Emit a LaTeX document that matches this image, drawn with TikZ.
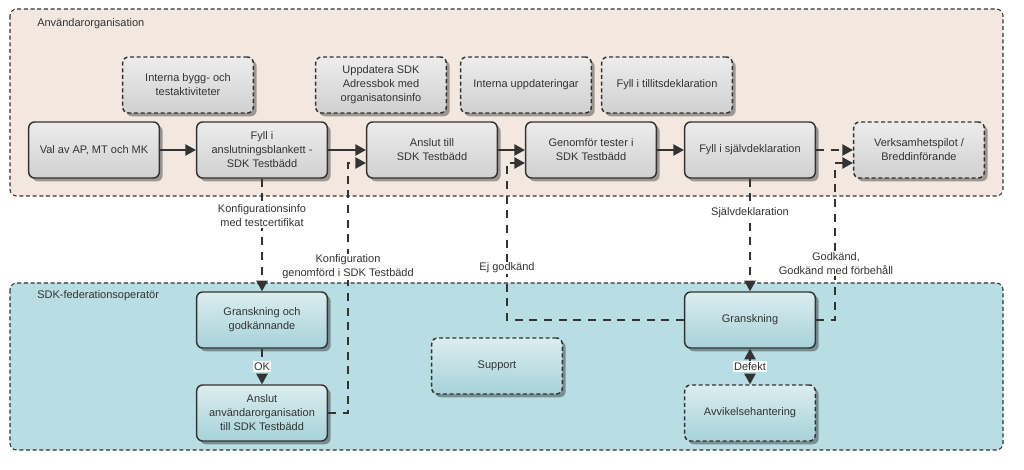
\documentclass[tikz,border=0pt]{standalone}
\usepackage{fontspec}
\setmainfont{Liberation Sans}
\usetikzlibrary{arrows.meta,shadows}
\definecolor{orgfill}{HTML}{F2E8E0}
\definecolor{opfill}{HTML}{B8DDE2}
\definecolor{linecol}{HTML}{333333}
\definecolor{taskgray}{HTML}{D0D0D0}
\definecolor{opteal}{HTML}{A6D2D8}
\newcommand{\boxfont}{\fontsize{8.25}{10.5}\selectfont}
\tikzset{>={Triangle[length=8pt,width=8.5pt]}}
\tikzset{lane/.style={fill=#1,draw=linecol,line width=0.8pt,dash pattern=on 3pt off 2pt,rounded corners=5pt},lane/.default=orgfill}
\tikzset{lanetitle/.style={text=linecol,font=\boxfont,inner sep=0pt}}
\tikzset{task/.style={draw=linecol,line width=1.1pt,rounded corners=4.5pt,minimum width=98pt,minimum height=42pt,align=center,text=linecol,font=\boxfont,top color=#1!40!white,bottom color=#1,drop shadow={shadow xshift=2.5pt,shadow yshift=-2.5pt,fill=black,opacity=0.35}},task/.default=taskgray}
\tikzset{sidetask/.style={task=#1,dash pattern=on 3pt off 2pt},sidetask/.default=taskgray}
\tikzset{flow/.style={draw=linecol,line width=1.2pt,->}}
\tikzset{msg/.style={flow,dash pattern=on 6pt off 5pt}}
\tikzset{lbl/.style={fill=white,inner sep=1pt,align=center,text=linecol,font=\boxfont}}

\begin{document}
\begin{tikzpicture}[x=0.75pt,y=-0.75pt]
		\useasboundingbox (0,0) rectangle (1024,470);
		
		% lanes
		\draw [lane] (10,9) rectangle (1003,196);
		\draw [lane=opfill] (10,283) rectangle (1003,450);
		\node [lanetitle,anchor=west] (org) at (37,24) {Användarorganisation};
		\node [lanetitle,anchor=west] (op) at (37,296) {SDK-federationsoperatör};
		
		% main flow
		\node [task] (val) at (94,150) {Val av AP, MT och MK};
		\node [task] (fyll) at (262,150) {Fyll i\\anslutningsblankett -\\SDK Testbädd};
		\node [task] (anslut) at (432,150) {Anslut till\\SDK Testbädd};
		\node [task] (tester) at (591,150) {Genomför tester i\\SDK Testbädd};
		\node [task] (sjalv) at (750,150) {Fyll i självdeklaration};
		\node [sidetask] (pilot) at (919,150) {Verksamhetspilot /\\Breddinförande};
		
		\node [sidetask] (bygg) at (188,85) {Interna bygg- och\\testaktiviteter};
		\node [sidetask] (adress) at (381,85) {Uppdatera SDK\\Adressbok med\\organisatonsinfo};
		\node [sidetask] (uppd) at (526,85) {Interna uppdateringar};
		\node [sidetask] (tillit) at (667,85) {Fyll i tillitsdeklaration};
		
		% operator
		\node [task=opteal] (godk) at (262,320) {Granskning och\\godkännande};
		\node [task=opteal] (anslutorg) at (262,413) {Anslut\\användarorganisation\\till SDK Testbädd};
		\node [sidetask=opteal] (support) at (497,366) {Support};
		\node [task=opteal] (gransk) at (750,320) {Granskning};
		\node [sidetask=opteal] (avvik) at (750,413) {Avvikelsehantering};
		
		\draw [flow] (val) -- (fyll);
		\draw [flow] (fyll) -- (anslut);
		\draw [flow] (anslut) -- (tester);
		\draw [flow] (tester) -- (sjalv);
		\draw [msg] (sjalv) -- (pilot);
		
		\draw [msg] (fyll) -- node [lbl,pos=0.33] {Konfigurationsinfo\\med testcertifikat} (godk);
		\draw [msg] (sjalv) -- node [lbl,pos=0.3] {Självdeklaration} (gransk);
		\draw [msg] (godk) -- node [lbl] {OK} (anslutorg);
		\draw [msg,<->] (gransk) -- node [lbl] {Defekt} (avvik);
		
		\coordinate (k1) at (348,163);
		\coordinate (k2) at (507,163);
		\coordinate (k3) at (835,163);
		\draw [msg] (anslutorg.east) -| (k1) -- (k1 -| anslut.west);
		\draw [msg] (gransk.west) -| (k2) -- (k2 -| tester.west);
		\draw [msg] (gransk.east) -| (k3) -- (k3 -| pilot.west);
		\node [lbl] (lkonf) at (348,267) {Konfiguration\\genomförd i SDK Testbädd};
		\node [lbl] (lej) at (507,268) {Ej godkänd};
		\node [lbl] (lgod) at (836,264) {Godkänd,\\Godkänd med förbehåll};
	\end{tikzpicture}
\end{document}
